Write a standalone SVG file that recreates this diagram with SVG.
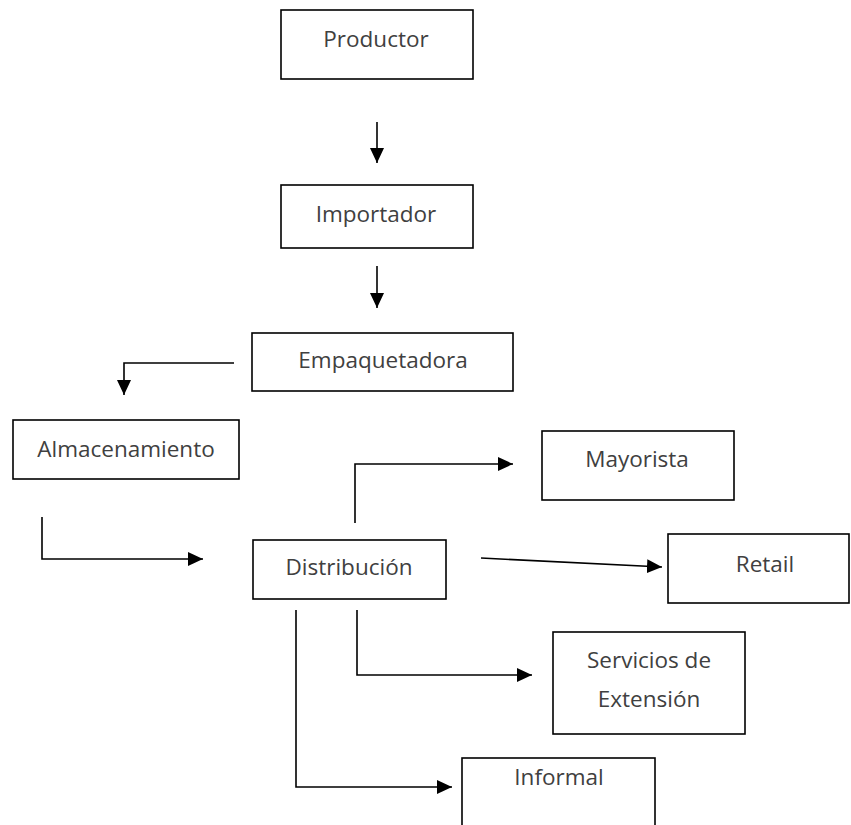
<svg xmlns="http://www.w3.org/2000/svg" width="851" height="825" viewBox="0 0 851 825">
<style>
.box{fill:#fff;stroke:#000;stroke-width:1.6}
.lbl{font-family:"Open Sans","Noto Sans","Liberation Sans",sans-serif;font-size:22.5px;fill:#404040;text-anchor:middle}
.con{fill:none;stroke:#000;stroke-width:1.6}
</style>
<defs>
<marker id="ah" viewBox="0 0 15 14" refX="15" refY="7" markerWidth="15" markerHeight="14" markerUnits="userSpaceOnUse" orient="auto">
<path d="M0,0 L15,7 L0,14 z" fill="#000"/>
</marker>
</defs>
<rect width="851" height="825" fill="#fff"/>
<g id="productor"><rect class="box" x="281" y="10" width="192" height="69"/><text class="lbl" x="376" y="47">Productor</text></g>
<g id="importador"><rect class="box" x="281" y="185" width="192" height="63"/><text class="lbl" x="376" y="222">Importador</text></g>
<g id="empaquetadora"><rect class="box" x="252" y="333" width="261" height="58"/><text class="lbl" x="383" y="368">Empaquetadora</text></g>
<g id="almacenamiento"><rect class="box" x="13" y="420" width="226" height="59"/><text class="lbl" x="126" y="457">Almacenamiento</text></g>
<g id="distribucion"><rect class="box" x="253" y="540" width="193" height="59"/><text class="lbl" x="349" y="575">Distribución</text></g>
<g id="mayorista"><rect class="box" x="542" y="431" width="192" height="69"/><text class="lbl" x="637" y="467">Mayorista</text></g>
<g id="retail"><rect class="box" x="668" y="534" width="181" height="69"/><text class="lbl" x="765" y="572">Retail</text></g>
<g id="servicios"><rect class="box" x="553" y="632" width="192" height="102"/><text class="lbl" x="649" y="668">Servicios de</text><text class="lbl" x="649" y="707">Extensión</text></g>
<g id="informal"><rect class="box" x="462" y="758" width="193" height="80"/><text class="lbl" x="559" y="785">Informal</text></g>
<g id="connectors">
<path class="con" d="M377,122 V163" marker-end="url(#ah)"/>
<path class="con" d="M377,266 V308" marker-end="url(#ah)"/>
<path class="con" d="M234,363 H124 V395" marker-end="url(#ah)"/>
<path class="con" d="M42,517 V559 H203" marker-end="url(#ah)"/>
<path class="con" d="M355,523 V464 H513" marker-end="url(#ah)"/>
<path class="con" d="M481,558 L662,567" marker-end="url(#ah)"/>
<path class="con" d="M357,610 V675 H532" marker-end="url(#ah)"/>
<path class="con" d="M296,610 V787 H452" marker-end="url(#ah)"/>
</g>
</svg>
